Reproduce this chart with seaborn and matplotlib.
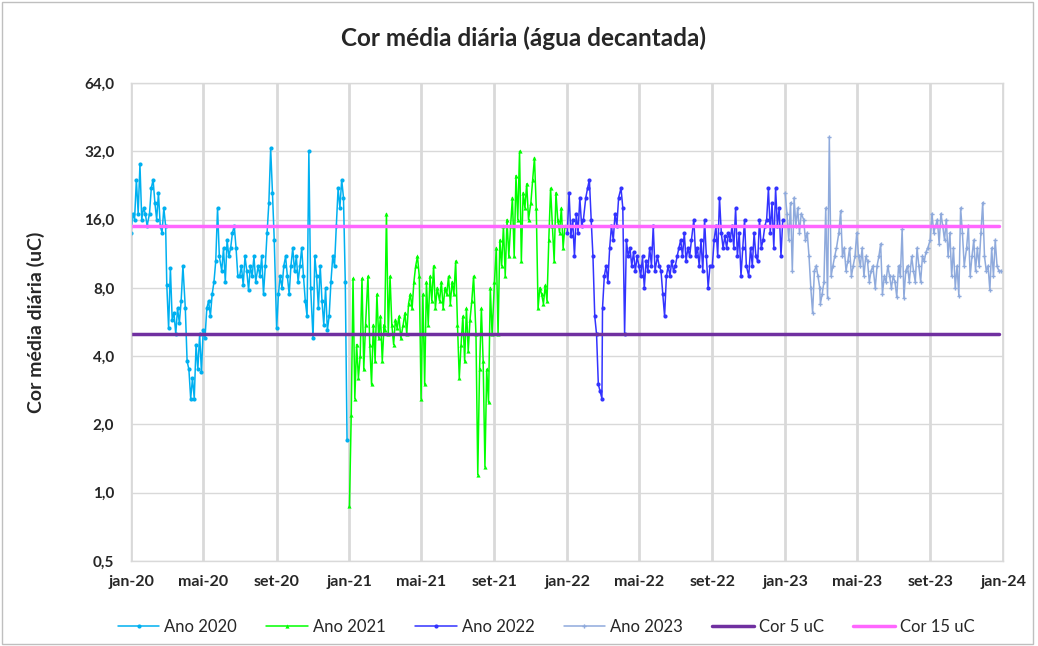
import numpy as np
import pandas as pd
import matplotlib
matplotlib.use("Agg")
import matplotlib.pyplot as plt
import matplotlib.patches as mpatches
import seaborn as sns

# ---------------- data (~every 3 days, one row per month) ----------------
days_in_month = [1, 4, 7, 10, 13, 16, 19, 22, 25, 28]

ano_2020 = [
    [14, 17, 16, 24, 17, 28, 16, 18, 17, 15],
    [17, 22, 24, 19, 16, 21, 15, 14, 18, 15],
    [8.2, 5.3, 9.8, 5.8, 6.2, 5.0, 6.5, 5.6, 7.0, 10.0],
    [6.5, 3.8, 3.5, 2.6, 3.2, 2.6, 4.5, 3.5, 5.0, 3.4],
    [5.2, 4.8, 6.5, 7.0, 6.0, 7.5, 8.5, 10.5, 18, 11],
    [9.5, 12, 8.5, 13, 11, 12, 14, 15, 12, 9],
    [9, 10, 8.2, 11, 9.5, 7.8, 10, 9, 11, 8.5],
    [10, 9, 11, 7.5, 10, 14, 19, 33, 21, 13],
    [5.3, 7.5, 9, 8, 10, 11, 9, 7.5, 10, 12],
    [9.5, 11, 8.5, 10, 12, 9, 7, 6, 32, 8],
    [4.8, 11, 9, 6.5, 10, 7, 5.5, 8, 5.2, 6],
    [8.5, 11, 10, 15, 22, 18, 24, 20, 8.5, 1.7],
]
ano_2021 = [
    [0.87, 2.2, 8.8, 2.6, 4.5, 3.2, 4.0, 8.8, 3.5, 5.5],
    [9, 4.5, 3.0, 5.5, 3.8, 7.5, 4.8, 6.0, 3.8, 5.5],
    [5.2, 17, 5.0, 9, 5.5, 4.5, 5.8, 5.3, 6, 4.8],
    [5.5, 6.2, 5.0, 6.8, 7.5, 6.5, 8.5, 10, 11, 9],
    [2.6, 7.5, 3.0, 8.5, 5.5, 9, 7, 10, 6.5, 8],
    [7, 8.5, 6.5, 8, 7.5, 9, 6.8, 8.5, 7.5, 10.5],
    [5.5, 3.2, 4.5, 6, 3.8, 6.5, 4.2, 5.8, 7, 9],
    [5, 1.2, 3.5, 6.5, 3.8, 1.3, 3.5, 2.5, 8, 5],
    [8.5, 12, 5, 13, 10, 15, 9, 16, 11, 15],
    [20, 11, 25, 16, 32, 10.5, 21, 18, 23, 16],
    [19, 24, 30, 18, 6.5, 8, 7.5, 6.8, 8.2, 7],
    [13, 22, 15, 10.5, 21, 16, 14, 18, 12, 15],
]
ano_2022 = [
    [14, 21, 13.5, 16, 11, 17, 14, 20, 15, 16],
    [20, 22, 24, 16, 11, 6, 5, 3, 2.8, 2.6],
    [6.5, 9, 10, 8.5, 12, 15, 13, 17, 15, 20],
    [22, 18, 5, 13, 11, 12, 10, 11.5, 9.5, 11],
    [10, 9, 11, 8, 10.5, 9.5, 12, 10, 15, 9.5],
    [11, 10, 9.5, 7.5, 6, 9, 10, 9, 10.5, 9.5],
    [10, 11, 12, 13, 11, 14, 10.5, 12, 11, 13],
    [16, 11, 12, 10, 13, 9.5, 16, 11, 8, 10],
    [10, 13, 15, 11, 20, 14, 12, 13.5, 12, 14],
    [13, 15, 12, 18, 11, 14, 9, 12, 16, 10],
    [9, 12, 10, 14, 11, 10.5, 16, 12, 13, 15],
    [16, 22, 14, 19, 12, 22, 15, 18, 11, 16],
]
ano_2023 = [
    [21, 17, 13, 19, 9.5, 20, 15, 18, 14, 17],
    [16, 13, 14, 11, 8, 6.2, 9.5, 10, 9, 8],
    [6.8, 7.5, 8.5, 18, 7.2, 37, 9, 10, 11, 12],
    [14, 17.5, 11, 12, 9.5, 10.5, 12, 9, 10, 11],
    [14, 11, 10, 12, 9, 11, 10.5, 8.5, 9.5, 10],
    [8, 10, 11, 12.5, 7.5, 9, 8.5, 10, 9, 8],
    [9, 8.5, 7.3, 10, 9, 14.5, 7.2, 9.5, 10, 8.5],
    [11, 9.5, 8.5, 12, 10, 8.5, 11, 10.5, 11.5, 12],
    [13, 17, 14, 15, 16, 12.5, 17, 15, 13, 16],
    [11, 14, 9, 12, 8, 10, 7.4, 18, 14, 10],
    [12, 15, 9, 11, 13, 9.5, 12, 10, 14, 19],
    [11, 9.5, 10, 7.8, 12, 9, 13, 10, 9.5, 9.5],
]

limite_datas = ["2020-01-01", "2023-12-26"]
cor_5 = [5, 5]
cor_15 = [15, 15]

tick_labels = ["jan-20", "mai-20", "set-20", "jan-21", "mai-21", "set-21", "jan-22",
               "mai-22", "set-22", "jan-23", "mai-23", "set-23", "jan-24"]
y_ticks = [0.5, 1, 2, 4, 8, 16, 32, 64]
y_tick_labels = ["0,5", "1,0", "2,0", "4,0", "8,0", "16,0", "32,0", "64,0"]

# ---------------- build frames ----------------
def year_frame(year, rows):
    dates, vals = [], []
    for m, row in enumerate(rows, start=1):
        for d, v in zip(days_in_month, row):
            dates.append(pd.Timestamp(year, m, d))
            vals.append(v)
    return pd.DataFrame({"data": dates, "cor": vals})

series = [
    ("Ano 2020", year_frame(2020, ano_2020), "#00B0F0", "o", 3.0),
    ("Ano 2021", year_frame(2021, ano_2021), "#00FF00", "^", 3.0),
    ("Ano 2022", year_frame(2022, ano_2022), "#3333FF", "o", 3.0),
    ("Ano 2023", year_frame(2023, ano_2023), "#8FAADC", "P", 3.0),
]

sns.set_theme(style="white")
plt.rcParams["font.family"] = ["Lato", "DejaVu Sans"]

fig = plt.figure(figsize=(10.38, 6.46), dpi=100)
ax = fig.add_axes([131 / 1038, 1 - 561 / 646, (1003 - 131) / 1038, (561 - 83) / 646])

for name, df, col, mk, ms in series:
    sns.lineplot(data=df, x="data", y="cor", ax=ax, color=col, marker=mk,
                 markersize=ms, markeredgewidth=0, linewidth=1.1, label=name)

lim_df5 = pd.DataFrame({"data": pd.to_datetime(limite_datas), "cor": cor_5})
lim_df15 = pd.DataFrame({"data": pd.to_datetime(limite_datas), "cor": cor_15})
sns.lineplot(data=lim_df5, x="data", y="cor", ax=ax, color="#7030A0", linewidth=2.5, label="Cor 5 uC")
sns.lineplot(data=lim_df15, x="data", y="cor", ax=ax, color="#FF66FF", linewidth=2.5, label="Cor 15 uC")

ax.set_yscale("log", base=2)
ax.set_ylim(0.5, 64)
ax.set_yticks(y_ticks)
ax.set_yticklabels(y_tick_labels, fontweight="bold", fontsize=11)
ax.yaxis.set_minor_locator(matplotlib.ticker.NullLocator())

tick_dates = pd.date_range("2020-01-01", "2024-01-01", freq="4MS")
ax.set_xlim(pd.Timestamp("2020-01-01"), pd.Timestamp("2024-01-01"))
ax.set_xticks(tick_dates)
ax.set_xticklabels(tick_labels, fontweight="bold", fontsize=11.5)
ax.tick_params(axis="both", length=0)
ax.tick_params(axis="x", pad=10)
ax.tick_params(axis="y", pad=12)

ax.grid(axis="y", color="#D9D9D9", linewidth=1.0)
ax.grid(axis="x", color="#D9D9D9", linewidth=2.0)
ax.set_axisbelow(True)
for s in ax.spines.values():
    s.set_color("#D9D9D9")
    s.set_linewidth(1.0)

ax.set_xlabel("")
ax.set_ylabel("Cor média diária (uC)", fontweight="bold", fontsize=14, labelpad=28)
fig.text(0.504, 1 - 38 / 646, "Cor média diária (água decantada)", ha="center", va="center",
         fontweight="bold", fontsize=17.5)

ax.get_legend().remove()
handles, labels = ax.get_legend_handles_labels()
fig.legend(handles, labels, loc="center", bbox_to_anchor=(0.526, 1 - 627 / 646), ncol=6,
           frameon=False, fontsize=12, handlelength=2.5, columnspacing=1.75, handletextpad=0.3)

fig.patches.append(mpatches.Rectangle((0.002, 0.003), 0.993, 0.994, transform=fig.transFigure,
                                      fill=False, edgecolor="#BFBFBF", linewidth=1.0))

fig.savefig("out.png", dpi=100)
